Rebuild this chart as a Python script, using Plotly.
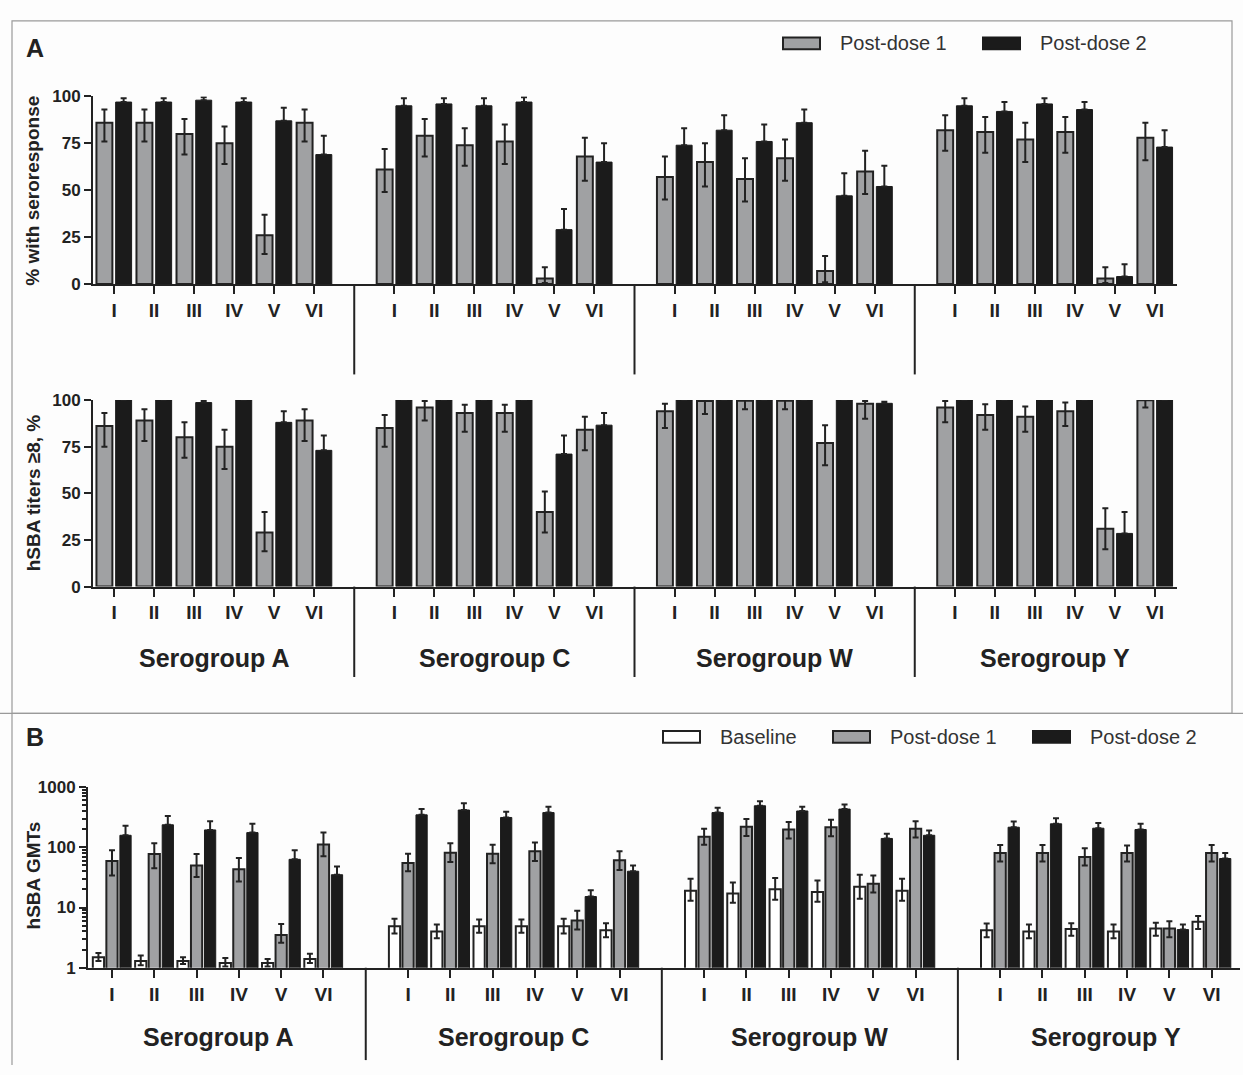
import plotly.graph_objects as go

W, H = 1243, 1075

groups = ["Serogroup A", "Serogroup C", "Serogroup W", "Serogroup Y"]
regimens = ["I", "II", "III", "IV", "V", "VI"]

# Panel A (top): % with seroresponse
sero_pd1 = [86, 86, 80, 75, 26, 86, 61, 79, 74, 76, 3, 68, 57, 65, 56, 67, 7, 60, 82, 81, 77, 81, 3, 78]
sero_pd1_hi = [93, 93, 88, 84, 37, 93, 72, 88, 83, 85, 9, 78, 68, 75, 67, 77, 15, 71, 90, 89, 86, 89, 9, 86]
sero_pd1_lo = [76, 76, 69, 64, 16, 76, 49, 68, 63, 64, 0.5, 55, 45, 52, 44, 55, 1, 48, 71, 70, 65, 70, 0.5, 66]
sero_pd2 = [97, 97, 98, 97, 87, 69, 95, 96, 95, 97, 29, 65, 74, 82, 76, 86, 47, 52, 95, 92, 96, 93, 4, 73]
sero_pd2_hi = [99, 99, 99.5, 99, 94, 79, 99, 99, 99, 99.5, 40, 75, 83, 90, 85, 93, 59, 63, 99, 97, 99, 97, 10.5, 82]

# Panel A (bottom): hSBA titers >= 8, %
t8_pd1 = [86, 89, 80, 75, 29, 89, 85, 96, 93, 93, 40, 84, 94, 99.5, 99.6, 99.6, 77, 98, 96, 92, 91, 94, 31, 99.8]
t8_pd1_hi = [93, 95, 88, 84, 40, 95, 92, 99.5, 97.5, 97.5, 51, 91, 98, 100, 100, 100, 86.5, 99.5, 99.5, 97.7, 96.5, 98.6, 42, 100]
t8_pd1_lo = [75, 78, 69, 63, 19, 78, 75, 89, 83, 83, 29, 73, 85, 92.5, 95, 95, 65, 90, 88, 84, 83, 86, 20, 96]
t8_pd2 = [100, 100, 98.6, 100, 88, 73, 100, 100, 100, 100, 71, 86.5, 100, 100, 100, 100, 100, 98.2, 100, 100, 100, 100, 28.5, 100]
t8_pd2_hi = [100, 100, 99.5, 100, 94, 81, 100, 100, 100, 100, 81, 93, 100, 100, 100, 100, 100, 99.1, 100, 100, 100, 100, 40, 100]

# Panel B: hSBA GMTs
gmt_base = [1.5, 1.3, 1.3, 1.2, 1.2, 1.4, 4.9, 4.0, 4.9, 4.9, 4.9, 4.2, 19, 17, 20, 18, 22, 19, 4.2, 4.0, 4.4, 4.0, 4.5, 5.8]
gmt_base_hi = [1.75, 1.6, 1.5, 1.45, 1.4, 1.7, 6.5, 5.2, 6.3, 6.3, 6.5, 5.5, 30, 26, 31, 28, 35, 30, 5.4, 5.2, 5.5, 5.2, 5.6, 7.2]
gmt_base_lo = [1.3, 1.1, 1.15, 1.05, 1.05, 1.2, 3.7, 3.1, 3.8, 3.8, 3.7, 3.2, 13, 12, 13.5, 12.5, 14, 13, 3.2, 3.1, 3.4, 3.1, 3.4, 4.4]
gmt_pd1 = [59, 77, 50, 43, 3.5, 111, 55, 81, 78, 86, 6.1, 61, 150, 218, 198, 215, 24.7, 202, 80, 80, 69, 80, 4.5, 80]
gmt_pd1_hi = [89, 117, 77, 66, 5.3, 175, 78, 116, 110, 120, 8.8, 86, 203, 295, 263, 286, 34, 270, 109, 109, 96, 107, 5.9, 109]
gmt_pd1_lo = [34, 45, 32, 27, 2.6, 71, 40, 57, 54, 59, 4.3, 42, 110, 154, 140, 152, 17.7, 145, 58, 58, 50, 58, 3.2, 58]
gmt_pd2 = [158, 236, 194, 175, 63, 35, 345, 415, 312, 376, 15.2, 40, 376, 488, 400, 430, 140, 158, 215, 245, 207, 197, 4.3, 65]
gmt_pd2_hi = [227, 330, 270, 245, 89, 48, 430, 535, 390, 470, 19.3, 50, 453, 580, 470, 513, 168, 190, 268, 303, 253, 245, 5.2, 80]

# ---------------------------------------------------------------------------
FONT = "Liberation Sans, Arial, sans-serif"
INK = "#222222"
GRAY = "#a0a1a3"
BLACK = "#1b1b1b"
BORDER = "#9a9a9a"
BG = "#fdfdfd"

SLOTS = len(regimens) + 1
xs = [g * SLOTS + i for g in range(len(groups)) for i in range(len(regimens))]
ticktext = ["<b>%s</b>" % r for _ in groups for r in regimens]
seps = [g * SLOTS - 1 for g in range(1, len(groups))]
centers = [g * SLOTS + (len(regimens) - 1) / 2 for g in range(len(groups))]


def px(x):
    return x / W


def py(y):
    return 1 - y / H


def diff(a, b):
    return [max(u - v, 0) for u, v in zip(a, b)]


def err(up, down=None):
    d = dict(type="data", symmetric=False, array=up, color=INK, thickness=2, width=3)
    d["arrayminus"] = down if down is not None else [0] * len(up)
    return d


fig = go.Figure()

# --- panel A top
fig.add_trace(go.Bar(x=xs, y=sero_pd1, name="Post-dose 1", marker=dict(color=GRAY, line=dict(color=INK, width=2)),
                     error_y=err(diff(sero_pd1_hi, sero_pd1), diff(sero_pd1, sero_pd1_lo)),
                     xaxis="x", yaxis="y", cliponaxis=False))
fig.add_trace(go.Bar(x=xs, y=sero_pd2, name="Post-dose 2", marker=dict(color=BLACK, line=dict(color=BLACK, width=1)),
                     error_y=err(diff(sero_pd2_hi, sero_pd2)), xaxis="x", yaxis="y", cliponaxis=False))
# --- panel A bottom
fig.add_trace(go.Bar(x=xs, y=t8_pd1, name="Post-dose 1", marker=dict(color=GRAY, line=dict(color=INK, width=2)),
                     error_y=err(diff(t8_pd1_hi, t8_pd1), diff(t8_pd1, t8_pd1_lo)),
                     xaxis="x2", yaxis="y2", cliponaxis=False))
fig.add_trace(go.Bar(x=xs, y=t8_pd2, name="Post-dose 2", marker=dict(color=BLACK, line=dict(color=BLACK, width=1)),
                     error_y=err(diff(t8_pd2_hi, t8_pd2)), xaxis="x2", yaxis="y2", cliponaxis=False))
# --- panel B
fig.add_trace(go.Bar(x=xs, y=gmt_base, name="Baseline", marker=dict(color="#ffffff", line=dict(color=INK, width=2)),
                     error_y=err(diff(gmt_base_hi, gmt_base), diff(gmt_base, gmt_base_lo)),
                     xaxis="x3", yaxis="y3", cliponaxis=False))
fig.add_trace(go.Bar(x=xs, y=gmt_pd1, name="Post-dose 1", marker=dict(color=GRAY, line=dict(color=INK, width=2)),
                     error_y=err(diff(gmt_pd1_hi, gmt_pd1), diff(gmt_pd1, gmt_pd1_lo)),
                     xaxis="x3", yaxis="y3", cliponaxis=False))
fig.add_trace(go.Bar(x=xs, y=gmt_pd2, name="Post-dose 2", marker=dict(color=BLACK, line=dict(color=BLACK, width=1)),
                     error_y=err(diff(gmt_pd2_hi, gmt_pd2)), xaxis="x3", yaxis="y3", cliponaxis=False))

xcommon = dict(tickmode="array", tickvals=xs, ticktext=ticktext, ticks="outside", ticklen=8, tickwidth=2,
               tickcolor=INK, showline=True, linewidth=2, linecolor=INK, showgrid=False, zeroline=False,
               tickfont=dict(family=FONT, size=19, color=INK))
ycommon = dict(ticks="outside", ticklen=7, tickwidth=2, tickcolor=INK, showline=True, linewidth=2,
               linecolor=INK, showgrid=False, zeroline=False,
               tickfont=dict(family=FONT, size=17, color=INK, weight="bold"))

A_X = [px(93), px(1177)]
A_RANGE = [-0.525, 26.55]
B_X = [px(88), px(1240)]
B_RANGE = [-0.567, 26.67]

minor_vals = [m * 10 ** e for e in range(3) for m in range(2, 10)]

fig.update_layout(
    width=W, height=H, margin=dict(l=0, r=0, t=0, b=0),
    paper_bgcolor=BG, plot_bgcolor="rgba(0,0,0,0)",
    barmode="group", bargap=0.04, bargroupgap=0.17, showlegend=False,
    font=dict(family=FONT, color=INK),
    xaxis=dict(domain=A_X, range=A_RANGE, anchor="y", **xcommon),
    yaxis=dict(domain=[py(280), py(89)], range=[0, 100], tickvals=[0, 25, 50, 75, 100], anchor="x", **ycommon),
    xaxis2=dict(domain=A_X, range=A_RANGE, anchor="y2", **xcommon),
    yaxis2=dict(domain=[py(588), py(398)], range=[0, 100], tickvals=[0, 25, 50, 75, 100], anchor="x2", **ycommon),
    xaxis3=dict(domain=B_X, range=B_RANGE, anchor="y3", **xcommon),
    yaxis3=dict(domain=[py(976), py(792)], type="log", range=[0, 3], tickvals=[1, 10, 100, 1000],
                ticktext=["1", "10", "100", "1000"], anchor="x3",
                minor=dict(tickmode="array", tickvals=minor_vals, ticks="outside", ticklen=4, tickwidth=1.5,
                           tickcolor=INK, showgrid=False),
                **ycommon),
)

shapes = []
# panel frames: box around A, divider above B and left edge of B
shapes.append(dict(type="rect", xref="paper", yref="paper", x0=px(12), x1=px(1232), y0=py(717), y1=py(12),
                   line=dict(color=BORDER, width=1.2), layer="below"))
shapes.append(dict(type="line", xref="paper", yref="paper", x0=0, x1=1, y0=py(717), y1=py(717),
                   line=dict(color=BORDER, width=1.2), layer="below"))
shapes.append(dict(type="line", xref="paper", yref="paper", x0=px(12), x1=px(12), y0=py(717), y1=0,
                   line=dict(color=BORDER, width=1.2), layer="below"))
# group separators
for s in seps:
    for xr, y0, y1 in (("x", 280, 372), ("x2", 588, 680), ("x3", 976, 1070)):
        shapes.append(dict(type="line", xref=xr, yref="paper", x0=s, x1=s, y0=py(y0), y1=py(y1),
                           line=dict(color=INK, width=2)))

annotations = []
for c, gname in zip(centers, groups):
    annotations.append(dict(x=c, y=py(661), xref="x2", yref="paper", text="<b>%s</b>" % gname, showarrow=False,
                            font=dict(family=FONT, size=25, color=INK), xanchor="center", yanchor="middle"))
    annotations.append(dict(x=c, y=py(1046), xref="x3", yref="paper", text="<b>%s</b>" % gname, showarrow=False,
                            font=dict(family=FONT, size=25, color=INK), xanchor="center", yanchor="middle"))

# panel letters
for letter, yy in (("A", 40), ("B", 741)):
    annotations.append(dict(x=px(24), y=py(yy), xref="paper", yref="paper", text="<b>%s</b>" % letter,
                            showarrow=False, font=dict(family=FONT, size=25, color=INK),
                            xanchor="left", yanchor="middle"))

# y-axis titles
for t, yy in (("% with seroresponse", 185), ("hSBA titers ≥8, %", 493), ("hSBA GMTs", 882)):
    annotations.append(dict(x=px(33), y=py(yy), xref="paper", yref="paper", text=t, textangle=-90,
                            showarrow=False, font=dict(family=FONT, size=19, color=INK, weight="bold"),
                            xanchor="center", yanchor="middle"))

# hand-drawn legends (wide swatches as in the reference)
legend_items = [
    (783, 35, GRAY, INK, "Post-dose 1"), (983, 35, BLACK, BLACK, "Post-dose 2"),
    (663, 741, "#ffffff", INK, "Baseline"), (833, 741, GRAY, INK, "Post-dose 1"),
    (1033, 741, BLACK, BLACK, "Post-dose 2"),
]
for x0, yc, fill, line, label in legend_items:
    shapes.append(dict(type="rect", xref="paper", yref="paper", x0=px(x0), x1=px(x0 + 37),
                       y0=py(yc + 6), y1=py(yc - 6), fillcolor=fill, line=dict(color=line, width=2)))
    annotations.append(dict(x=px(x0 + 55), y=py(yc), xref="paper", yref="paper", text=label, showarrow=False,
                            font=dict(family=FONT, size=20, color="#333333"), xanchor="left", yanchor="middle"))

fig.update_layout(shapes=shapes, annotations=annotations)
fig.write_html(
    "out.html",
    config={"displayModeBar": False},
    post_script=(
        "document.documentElement.style.margin='0';document.body.style.margin='0';"
        "document.body.style.padding='0';document.documentElement.style.overflow='hidden';"
        "var gd=document.getElementById('{plot_id}');gd.style.position='fixed';"
        "gd.style.top='0px';gd.style.left='0px';"
    ),
)
